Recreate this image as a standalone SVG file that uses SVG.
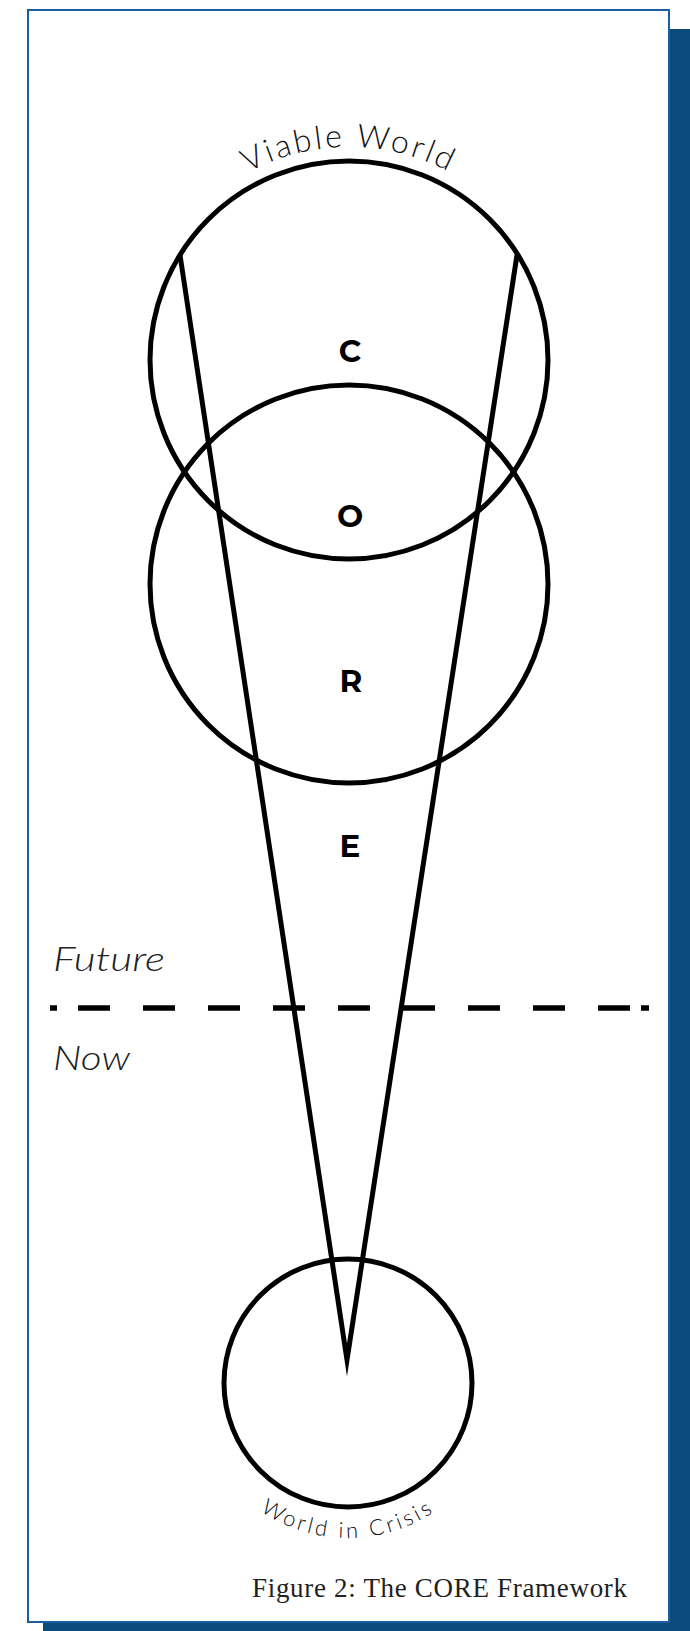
<svg xmlns="http://www.w3.org/2000/svg" width="690" height="1631" viewBox="0 0 690 1631">
  <style>
    .ring { fill: none; stroke: #000; stroke-width: 5; }
    .cone { fill: none; stroke: #000; stroke-width: 5; stroke-linejoin: miter; stroke-miterlimit: 12; }
    .letter { font-family: Montserrat, "Noto Sans", "Liberation Sans", sans-serif; font-weight: 700; font-size: 31px; fill: #000; text-anchor: middle; }
    .arc { font-family: Lato, "Open Sans", "Liberation Sans", sans-serif; font-weight: 300; fill: #111; }
    .time { font-family: Lato, "Open Sans", "Liberation Sans", sans-serif; font-weight: 300; font-style: italic; font-size: 33px; fill: #222; }
    .caption { font-family: "Liberation Serif", "DejaVu Serif", serif; font-size: 27px; fill: #231f20; }
  </style>
  <defs>
    <path id="arcTop" d="M136 360 A213 213 0 0 1 562 360"/>
    <path id="arcBottom" d="M193 1383 A155 155 0 0 0 503 1383"/>
  </defs>

  <g id="frame">
    <rect x="43" y="29" width="647" height="1602" fill="#0b4c7c"/>
    <rect x="28" y="10" width="641" height="1612" fill="#fff" stroke="#1b5e9f" stroke-width="2"/>
  </g>

  <g id="connectors">
    <polyline class="cone" points="180,255 347,1360 517,255"/>
    <path id="time-divider" d="M50 1008h7 M78 1008h32 M143 1008h32 M208 1008h32 M273 1008h32 M338 1008h32 M403 1008h32 M468 1008h32 M533 1008h32 M598 1008h32 M641 1008h8" stroke="#000" stroke-width="5.5" fill="none"/>
  </g>

  <g id="viable-world">
    <circle class="ring" cx="349" cy="360" r="199"/>
    <text class="arc" font-size="32" letter-spacing="2.8"><textPath href="#arcTop" startOffset="50%" text-anchor="middle">Viable World</textPath></text>
  </g>

  <g id="middle-circle">
    <circle class="ring" cx="349" cy="584" r="199"/>
  </g>

  <g id="world-in-crisis">
    <circle class="ring" cx="348" cy="1383" r="124"/>
    <text class="arc" font-size="22" letter-spacing="3.2"><textPath href="#arcBottom" startOffset="50%" text-anchor="middle">World in Crisis</textPath></text>
  </g>

  <g id="letter-c"><text class="letter" x="350" y="362">C</text></g>
  <g id="letter-o"><text class="letter" x="350" y="527">O</text></g>
  <g id="letter-r"><text class="letter" x="351" y="692">R</text></g>
  <g id="letter-e"><text class="letter" x="350" y="857">E</text></g>

  <g id="future-label"><text class="time" x="53" y="971" textLength="112" lengthAdjust="spacingAndGlyphs">Future</text></g>
  <g id="now-label"><text class="time" x="53" y="1070" textLength="77" lengthAdjust="spacingAndGlyphs">Now</text></g>

  <g id="caption"><text class="caption" x="252" y="1597" textLength="375" lengthAdjust="spacing">Figure 2: The CORE Framework</text></g>
</svg>
